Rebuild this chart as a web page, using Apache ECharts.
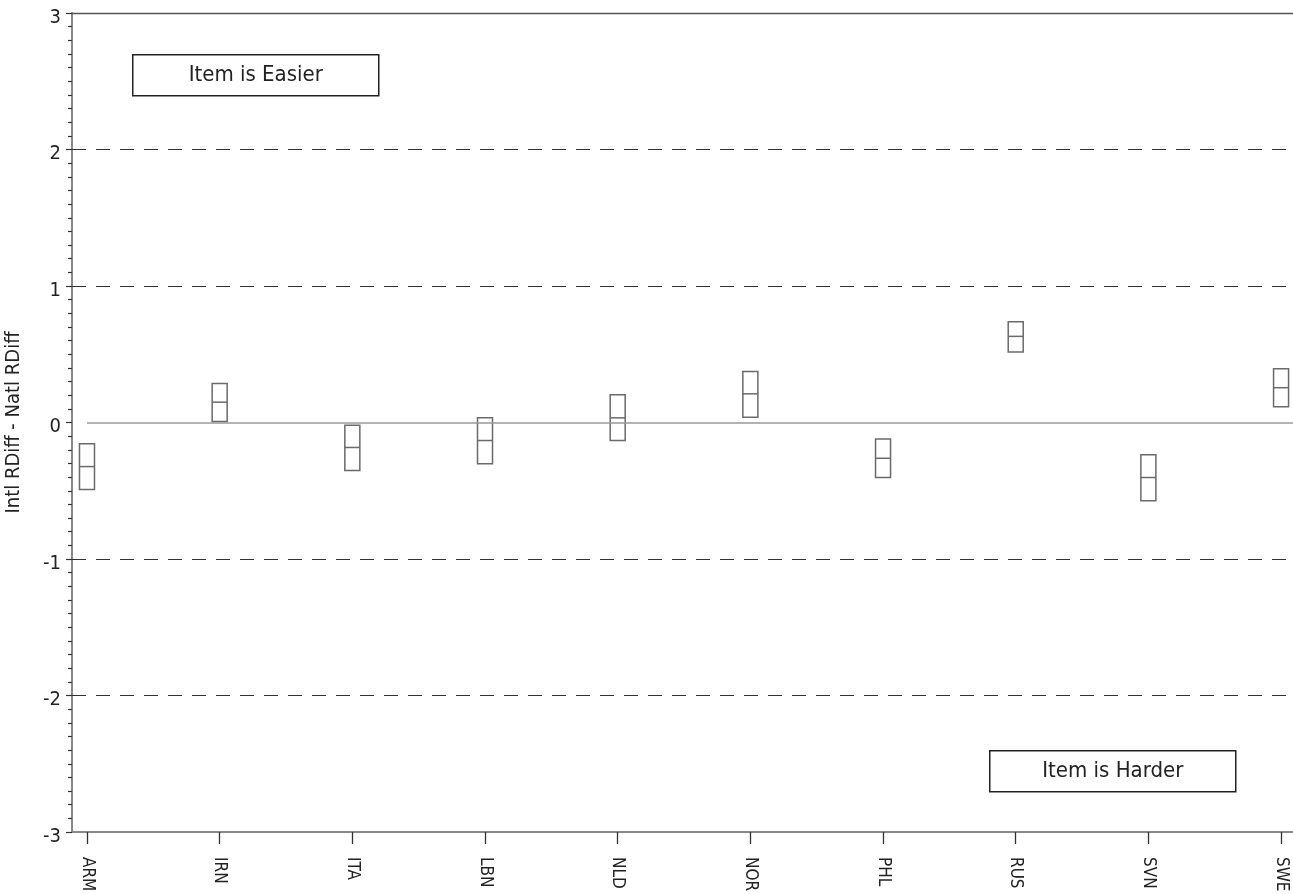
<!DOCTYPE html>
<html>
<head>
<meta charset="utf-8">
<script src="https://cdn.jsdelivr.net/npm/echarts@6/dist/echarts.min.js"></script>
<style>
  html, body { margin: 0; padding: 0; background: #fff; }
  #chart { width: 1293px; height: 894px; }
</style>
</head>
<body>
<div id="chart"></div>
<script>
// Countries along the x axis
const countries = ['ARM', 'IRN', 'ITA', 'LBN', 'NLD', 'NOR', 'PHL', 'RUS', 'SVN', 'SWE'];
// Difference in relative item difficulty (international minus national)
const diffMean  = [-0.323, 0.149, -0.183, -0.132, 0.034, 0.210, -0.262, 0.631, -0.403, 0.255];
const diffLower = [-0.490, 0.007, -0.352, -0.303, -0.132, 0.039, -0.403, 0.516, -0.574, 0.115];
const diffUpper = [-0.156, 0.286, -0.020, 0.034, 0.203, 0.374, -0.120, 0.739, -0.237, 0.394];
// Y-axis ticks and reference lines
const yTicks = [-3, -2, -1, 0, 1, 2, 3];
const dashedLevels = [-2, -1, 1, 2];

const FONT = "'Liberation Sans Narrow', 'DejaVu Sans Condensed', 'Liberation Sans', sans-serif";
const INK = '#222';
const X_MIN = -0.113, X_MAX = 9.09;

const chart = echarts.init(document.getElementById('chart'));

const boxData = countries.map((c, i) => [i, diffMean[i], diffLower[i], diffUpper[i]]);

chart.setOption({
  animation: false,
  backgroundColor: '#fff',
  grid: { left: 72, right: 0, top: 13, bottom: 62, containLabel: false, outerBoundsMode: 'none' },
  xAxis: [{
    type: 'value',
    min: X_MIN,
    max: X_MAX,
    position: 'bottom',
    splitLine: { show: false },
    axisLine: { show: true, onZero: false, lineStyle: { color: '#888', width: 2 } },
    axisTick: { show: true, customValues: countries.map((c, i) => i), length: 12,
                lineStyle: { color: '#333', width: 1.3 } },
    axisLabel: {
      show: true,
      customValues: countries.map((c, i) => i),
      formatter: v => countries[Math.round(v)] || '',
      rotate: -90,
      margin: 25,
      color: INK,
      fontFamily: FONT,
      fontSize: 17
    }
  }, {
    type: 'value',
    min: X_MIN,
    max: X_MAX,
    position: 'top',
    splitLine: { show: false },
    axisLine: { show: true, onZero: false, lineStyle: { color: '#555', width: 1.3 } },
    axisTick: { show: false },
    axisLabel: { show: false }
  }],
  yAxis: {
    type: 'value',
    min: -3,
    max: 3,
    interval: 1,
    name: 'Intl RDiff - Natl RDiff',
    nameLocation: 'middle',
    nameRotate: 90,
    nameGap: 48,
    nameTextStyle: { color: INK, fontFamily: FONT, fontSize: 20 },
    splitLine: { show: false },
    axisLine: { show: true, onZero: false, lineStyle: { color: '#888', width: 2 } },
    axisTick: { show: true, length: 6, lineStyle: { color: '#333', width: 1.2 } },
    minorTick: { show: true, splitNumber: 10, length: 4, lineStyle: { color: '#333', width: 1.2 } },
    axisLabel: {
      color: INK,
      fontFamily: FONT,
      fontSize: 20,
      margin: 11,
      verticalAlign: 'top',
      lineHeight: 9,
      formatter: v => (yTicks.indexOf(v) >= 0 ? String(v) : '')
    }
  },
  series: [{
    type: 'custom',
    xAxisIndex: 0,
    data: boxData,
    encode: { x: 0, y: [1, 2, 3] },
    renderItem: function (params, api) {
      const x = api.value(0);
      const mid = api.coord([x, api.value(1)]);
      const lo = api.coord([x, api.value(2)]);
      const hi = api.coord([x, api.value(3)]);
      const half = 7.5;
      const style = { fill: 'none', stroke: '#6a6a6a', lineWidth: 1.5 };
      return {
        type: 'group',
        children: [
          { type: 'rect', shape: { x: mid[0] - half, y: hi[1], width: half * 2, height: lo[1] - hi[1] }, style: style },
          { type: 'line', shape: { x1: mid[0] - half, y1: mid[1], x2: mid[0] + half, y2: mid[1] }, style: style }
        ]
      };
    },
    markLine: {
      silent: true,
      symbol: 'none',
      label: { show: false },
      data: dashedLevels.map(v => ({ yAxis: v, lineStyle: { type: [14, 10], color: '#333', width: 1.2 } }))
        .concat([[
          { coord: [0, 0], lineStyle: { type: 'solid', color: '#999', width: 1.5 } },
          { coord: [X_MAX, 0] }
        ]])
    },
    z: 3
  }],
  graphic: [
    {
      type: 'group', left: 132, top: 54,
      children: [
        { type: 'rect', shape: { x: 0, y: 0, width: 246, height: 41 },
          style: { fill: '#fff', stroke: '#222', lineWidth: 1.5 } },
        { type: 'text', x: 123, y: 21,
          style: { text: 'Item is Easier', fill: INK, font: '22px ' + FONT, align: 'center', verticalAlign: 'middle' } }
      ]
    },
    {
      type: 'group', left: 989, top: 750,
      children: [
        { type: 'rect', shape: { x: 0, y: 0, width: 246, height: 41 },
          style: { fill: '#fff', stroke: '#222', lineWidth: 1.5 } },
        { type: 'text', x: 123, y: 21,
          style: { text: 'Item is Harder', fill: INK, font: '22px ' + FONT, align: 'center', verticalAlign: 'middle' } }
      ]
    }
  ]
});
</script>
</body>
</html>
